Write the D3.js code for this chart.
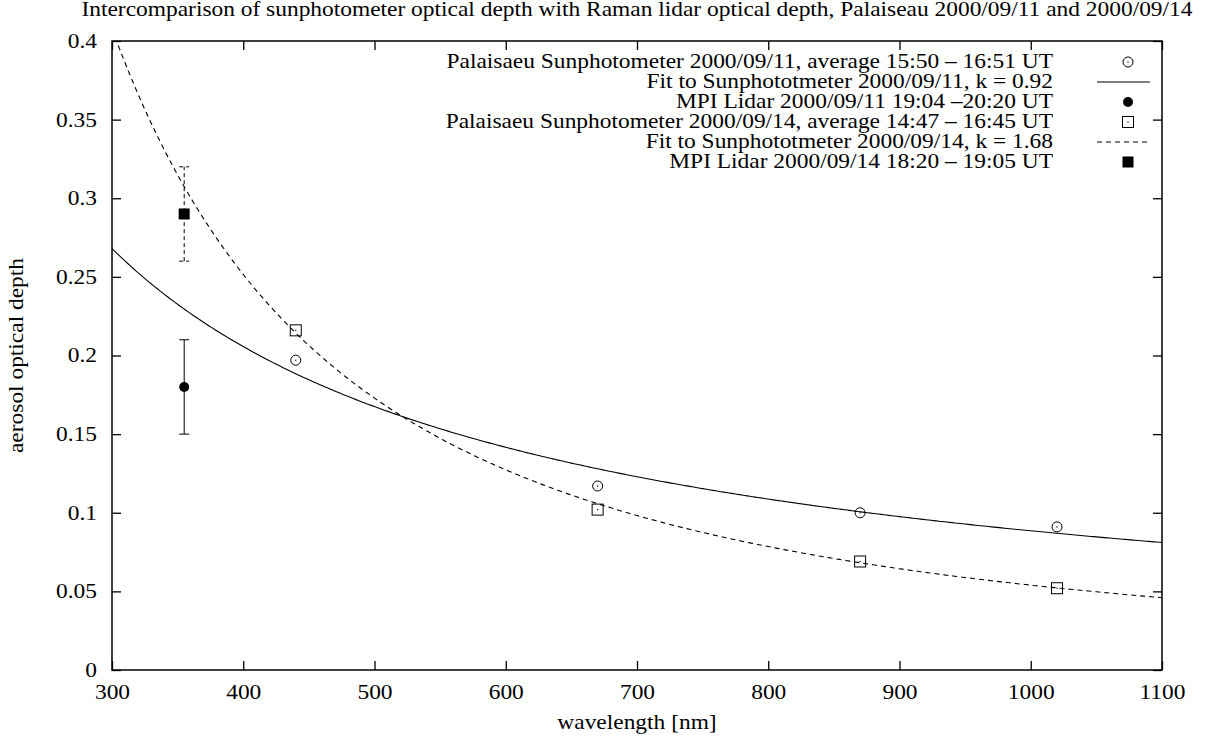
<!DOCTYPE html>
<html>
<head>
<meta charset="utf-8">
<script src="https://cdn.jsdelivr.net/npm/d3@7"></script>
<style>
  html, body { margin: 0; padding: 0; background: #fff; }
  svg { display: block; }
  text { font-family: "Liberation Serif", "Times New Roman", serif; font-size: 20px; fill: #000; }
</style>
</head>
<body>
<svg id="chart" width="1215" height="742"></svg>
<script>
// Wavelength axis and optical-depth axis ticks
const xTicks = [300, 400, 500, 600, 700, 800, 900, 1000, 1100];
const xTickLabels = ["300", "400", "500", "600", "700", "800", "900", "1000", "1100"];
const yTicks = [0, 0.05, 0.1, 0.15, 0.2, 0.25, 0.3, 0.35, 0.4];
const yTickLabels = ["0", "0.05", "0.1", "0.15", "0.2", "0.25", "0.3", "0.35", "0.4"];

// Sunphotometer measurements (wavelength in nm, optical depth)
const sunWavelengths = [440, 670, 870, 1020];
const sun0911 = [0.197, 0.117, 0.100, 0.091];
const sun0914 = [0.216, 0.102, 0.069, 0.052];

// Raman lidar measurements at 355 nm with uncertainty range
const lidarWavelength = [355];
const lidar0911 = [0.18], lidar0911Low = [0.15], lidar0911High = [0.21];
const lidar0914 = [0.29], lidar0914Low = [0.26], lidar0914High = [0.32];

// Angstrom power-law fits: tau(l) = tau500 * (l/500)^(-k)
const fitK = [0.92, 1.68];
const fitTau500 = [0.1675, 0.1729];

const legendLabels = [
  "Palaisaeu Sunphotometer 2000/09/11, average 15:50 \u2013 16:51 UT",
  "Fit to Sunphototmeter 2000/09/11, k = 0.92",
  "MPI Lidar 2000/09/11 19:04 \u201320:20 UT",
  "Palaisaeu Sunphotometer 2000/09/14, average 14:47 \u2013 16:45 UT",
  "Fit to Sunphototmeter 2000/09/14, k = 1.68",
  "MPI Lidar 2000/09/14 18:20 \u2013 19:05 UT"
];

const titleText = "Intercomparison of sunphotometer optical depth with Raman lidar optical depth, Palaiseau 2000/09/11 and 2000/09/14";

const svg = d3.select("#chart");
const L = 112, R = 1162, T = 41, B = 670;
const x = d3.scaleLinear().domain([300, 1100]).range([L, R]);
const y = d3.scaleLinear().domain([0, 0.4]).range([B, T]);

// Title, also used to derive the horizontal glyph stretch of the serif face
const title = svg.append("text")
  .attr("x", (L + R) / 2).attr("y", 16)
  .attr("text-anchor", "middle")
  .text(titleText);
const sx = 1112 / title.node().getComputedTextLength();

function stretch(sel) {
  sel.each(function () {
    const t = d3.select(this);
    const tx = +t.attr("x") || 0, ty = +t.attr("y") || 0;
    t.attr("transform", `translate(${tx},${ty}) scale(${sx},1) translate(${-tx},${-ty})`);
  });
}
stretch(title);

// Axes with inward ticks on all four sides
const tick = 9;
const gx = svg.append("g").attr("transform", `translate(0,${B})`)
  .call(d3.axisBottom(x).tickValues(xTicks).tickSize(-tick).tickPadding(15)
    .tickFormat((d, i) => xTickLabels[i]));
const gy = svg.append("g").attr("transform", `translate(${L},0)`)
  .call(d3.axisLeft(y).tickValues(yTicks).tickSize(-tick).tickPadding(15)
    .tickFormat((d, i) => yTickLabels[i]));
const gxt = svg.append("g").attr("transform", `translate(0,${T})`)
  .call(d3.axisTop(x).tickValues(xTicks).tickSize(-tick).tickFormat(""));
const gyr = svg.append("g").attr("transform", `translate(${R},0)`)
  .call(d3.axisRight(y).tickValues(yTicks).tickSize(-tick).tickFormat(""));

[gx, gy, gxt, gyr].forEach(g => {
  g.select(".domain").remove();
  g.selectAll("line").attr("stroke", "#000").attr("stroke-width", 1.3);
  g.selectAll("text").attr("font-size", null).attr("font-family", null).style("font-size", "20px");
});
gx.selectAll("text").call(stretch);
gy.selectAll("text").call(stretch);

svg.append("rect")
  .attr("x", L).attr("y", T).attr("width", R - L).attr("height", B - T)
  .attr("fill", "none").attr("stroke", "#000").attr("stroke-width", 1.5);

// Axis titles
const xl = svg.append("text").attr("x", (L + R) / 2).attr("y", 729)
  .attr("text-anchor", "middle").text("wavelength [nm]");
stretch(xl);
const ylCx = 23, ylCy = (T + B) / 2;
svg.append("text")
  .attr("transform", `translate(${ylCx},${ylCy}) rotate(-90) scale(${sx},1)`)
  .attr("text-anchor", "middle").text("aerosol optical depth");

// Plot clip
svg.append("clipPath").attr("id", "plotclip")
  .append("rect").attr("x", L).attr("y", T).attr("width", R - L).attr("height", B - T);
const plot = svg.append("g").attr("clip-path", "url(#plotclip)");

// Fit curves
const grid = d3.range(300, 1100.01, 2);
const line = d3.line().x(d => x(d[0])).y(d => y(d[1]));
const fitStyles = [null, "5,4"];
fitK.forEach((k, i) => {
  const pts = grid.map(l => [l, fitTau500[i] * Math.pow(l / 500, -k)]);
  plot.append("path").datum(pts).attr("d", line)
    .attr("fill", "none").attr("stroke", "#000").attr("stroke-width", 1.1)
    .attr("stroke-dasharray", fitStyles[i]);
});

// Marker helpers
function openCircle(g, cx, cy) {
  g.append("circle").attr("cx", cx).attr("cy", cy).attr("r", 5)
    .attr("fill", "none").attr("stroke", "#000").attr("stroke-width", 1);
  g.append("rect").attr("x", cx - 0.6).attr("y", cy - 0.6).attr("width", 1.2).attr("height", 1.2).attr("fill", "#000");
}
function openSquare(g, cx, cy) {
  g.append("rect").attr("x", cx - 5.5).attr("y", cy - 5.5).attr("width", 11).attr("height", 11)
    .attr("fill", "none").attr("stroke", "#000").attr("stroke-width", 1);
  g.append("rect").attr("x", cx - 0.6).attr("y", cy - 0.6).attr("width", 1.2).attr("height", 1.2).attr("fill", "#000");
}
function filledCircle(g, cx, cy) {
  g.append("circle").attr("cx", cx).attr("cy", cy).attr("r", 5).attr("fill", "#000");
}
function filledSquare(g, cx, cy) {
  g.append("rect").attr("x", cx - 5.5).attr("y", cy - 5.5).attr("width", 11).attr("height", 11).attr("fill", "#000");
}
function errorBar(g, wl, lo, hi, dash) {
  const cx = x(wl);
  g.append("line").attr("x1", cx).attr("x2", cx).attr("y1", y(lo)).attr("y2", y(hi))
    .attr("stroke", "#000").attr("stroke-width", 1).attr("stroke-dasharray", dash);
  [lo, hi].forEach(v => g.append("line")
    .attr("x1", cx - 5).attr("x2", cx + 5).attr("y1", y(v)).attr("y2", y(v))
    .attr("stroke", "#000").attr("stroke-width", 1).attr("stroke-dasharray", dash));
}

const pts = svg.append("g");
sunWavelengths.forEach((wl, i) => openCircle(pts, x(wl), y(sun0911[i])));
sunWavelengths.forEach((wl, i) => openSquare(pts, x(wl), y(sun0914[i])));
lidarWavelength.forEach((wl, i) => {
  errorBar(pts, wl, lidar0911Low[i], lidar0911High[i], null);
  filledCircle(pts, x(wl), y(lidar0911[i]));
  errorBar(pts, wl, lidar0914Low[i], lidar0914High[i], "4,3");
  filledSquare(pts, x(wl), y(lidar0914[i]));
});

// Legend
const legX = 1053, legSym = 1128, legLine = [1097, 1150], legY0 = 68, legDy = 20;
const leg = svg.append("g");
legendLabels.forEach((lab, i) => {
  const by = legY0 + i * legDy;
  const t = leg.append("text").attr("x", legX).attr("y", by).attr("text-anchor", "end").text(lab);
  stretch(t);
  const cy = by - 6;
  if (i === 0) openCircle(leg, legSym, cy);
  if (i === 1 || i === 4) leg.append("line").attr("x1", legLine[0]).attr("x2", legLine[1])
    .attr("y1", cy).attr("y2", cy).attr("stroke", "#000").attr("stroke-width", 1.1)
    .attr("stroke-dasharray", i === 4 ? "5,4" : null);
  if (i === 2) filledCircle(leg, legSym, cy);
  if (i === 3) openSquare(leg, legSym, cy);
  if (i === 5) filledSquare(leg, legSym, cy);
});
</script>
</body>
</html>
